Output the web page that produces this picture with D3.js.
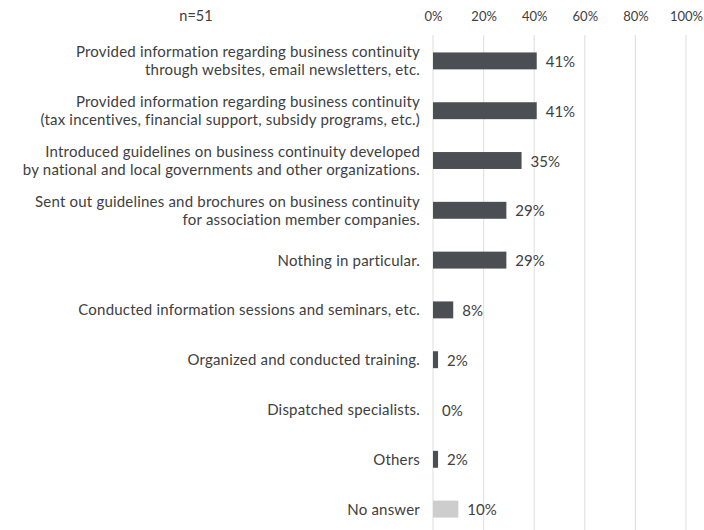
<!DOCTYPE html>
<html>
<head>
<meta charset="utf-8">
<script src="https://cdn.jsdelivr.net/npm/d3@7"></script>
<style>
  html, body { margin: 0; padding: 0; background: #ffffff; }
  svg { display: block; }
  text { font-family: Lato, "Open Sans", sans-serif; fill: #404040; }
</style>
</head>
<body>
<svg id="chart" width="704" height="530"></svg>
<script>
// Survey responses (share of respondents, %)
const categories = [
  ["Provided information regarding business continuity", "through websites, email newsletters, etc."],
  ["Provided information regarding business continuity", "(tax incentives, financial support, subsidy programs, etc.)"],
  ["Introduced guidelines on business continuity developed", "by national and local governments and other organizations."],
  ["Sent out guidelines and brochures on business continuity", "for association member companies."],
  ["Nothing in particular."],
  ["Conducted information sessions and seminars, etc."],
  ["Organized and conducted training."],
  ["Dispatched specialists."],
  ["Others"],
  ["No answer"]
];
const values = [41, 41, 35, 29, 29, 8, 2, 0, 2, 10];
const isNoAnswer = [false, false, false, false, false, false, false, false, false, true];
const tickValues = [0, 20, 40, 60, 80, 100];
const sampleLabel = "n=51";

const svg = d3.select("#chart");
const W = 704, H = 530;

const x = d3.scaleLinear().domain([0, 100]).range([433, 686]);
const y = d3.scaleBand()
  .domain(d3.range(values.length))
  .range([36, 534])
  .paddingInner(0.66)
  .paddingOuter(0.33);

// Vertical gridlines
svg.append("g")
  .selectAll("line")
  .data(tickValues)
  .join("line")
  .attr("x1", d => x(d)).attr("x2", d => x(d))
  .attr("y1", 35).attr("y2", H)
  .attr("stroke", "#e3e3e3")
  .attr("stroke-width", 1.2);

// Top axis labels
const axis = d3.axisTop(x).tickValues(tickValues).tickFormat(d => d + "%").tickSize(0).tickPadding(0);
const gAxis = svg.append("g").attr("transform", "translate(0,21)").call(axis);
gAxis.select(".domain").remove();
gAxis.selectAll("text")
  .attr("font-size", 13)
  .attr("font-family", "Lato, sans-serif")
  .attr("fill", "#404040")
  .attr("dy", 0);

// Sample size
svg.append("text")
  .attr("x", 196).attr("y", 21)
  .attr("text-anchor", "middle")
  .attr("font-size", 14.5)
  .text(sampleLabel);

// Bars
svg.append("g")
  .selectAll("rect")
  .data(values)
  .join("rect")
  .attr("x", x(0))
  .attr("y", (d, i) => y(i))
  .attr("width", d => x(d) - x(0))
  .attr("height", y.bandwidth())
  .attr("fill", (d, i) => isNoAnswer[i] ? "#cdcdcd" : "#4b4f54");

// Value labels
svg.append("g")
  .selectAll("text")
  .data(values)
  .join("text")
  .attr("x", d => x(d) + 9)
  .attr("y", (d, i) => y(i) + y.bandwidth() / 2)
  .attr("dy", "0.4em")
  .attr("font-size", 15)
  .text(d => d + "%");

// Category labels: one text per category, wrapped lines as tspans
const lh = 18;
svg.append("g")
  .selectAll("text")
  .data(categories)
  .join("text")
  .attr("text-anchor", "end")
  .attr("font-size", 15)
  .attr("letter-spacing", 0.2)
  .each(function (lines, i) {
    const cy = y(i) + y.bandwidth() / 2;
    const n = lines.length;
    d3.select(this).selectAll("tspan")
      .data(lines)
      .join("tspan")
      .attr("x", 420)
      .attr("y", (ln, j) => cy + (j - (n - 1) / 2) * lh)
      .attr("dy", "0.36em")
      .text(ln => ln);
  });
</script>
</body>
</html>
